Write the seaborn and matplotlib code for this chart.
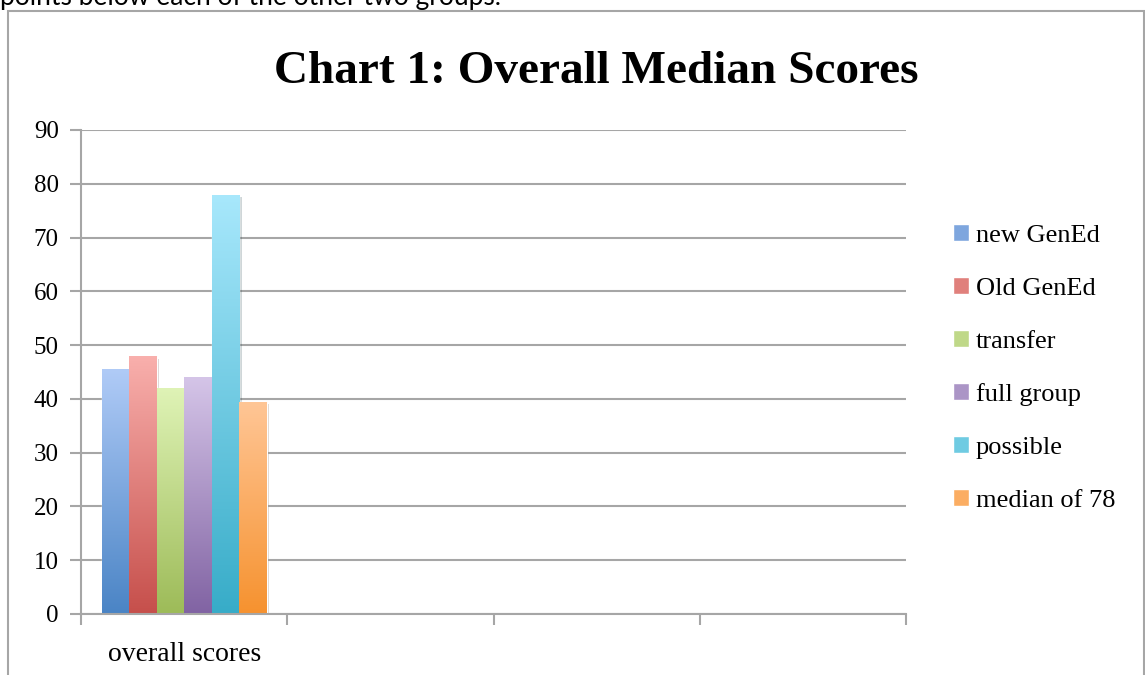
import numpy as np
import pandas as pd
import matplotlib
matplotlib.use("Agg")
import matplotlib.pyplot as plt
import matplotlib.patheffects as pe
import seaborn as sns
from matplotlib.colors import LinearSegmentedColormap
from matplotlib.patches import Rectangle

categorias = ["overall scores", "c2", "c3", "c4"]
rotulos_x = ["overall scores", "", "", ""]
grupos = ["new GenEd", "Old GenEd", "transfer", "full group", "possible", "median of 78"]
medianas = [45.5, 48, 42, 44, 78, 39.5]

# cores do degrade: topo claro, base escura
cor_topo = ["#b0cbf7", "#f9b0ad", "#dff3b6", "#d5c5e8", "#a8e8fc", "#ffc696"]
cor_base = ["#4a84c5", "#c64f4b", "#9dbb58", "#8163a3", "#37acc8", "#f6922f"]
cor_meio = ["#7ea6de", "#e0807c", "#bfd888", "#ab95c6", "#6fcbe2", "#fbad62"]

df = pd.DataFrame({
    "Categoria": ["overall scores"] * len(grupos),
    "Grupo": grupos,
    "Mediana": medianas,
})

sns.set_style("white")
plt.rcParams["font.family"] = ["Liberation Serif", "DejaVu Serif"]
plt.rcParams["text.color"] = "black"
plt.rcParams["xtick.color"] = "black"
plt.rcParams["ytick.color"] = "black"

cinza = "#a6a6a6"
W, H = 1145, 675
fig = plt.figure(figsize=(W / 100, H / 100), dpi=100)
ax = fig.add_axes([81 / W, 1 - 614 / H, 825 / W, 484 / H])

sns.barplot(data=df, x="Categoria", y="Mediana", hue="Grupo", order=categorias,
            hue_order=grupos, palette=cor_base, width=0.8, saturation=1,
            legend=False, ax=ax)

grad = np.linspace(0, 1, 256).reshape(-1, 1)
for patch, c_top, c_bot in zip(ax.patches, cor_topo, cor_base):
    x0, y0 = patch.get_xy()
    w, h = patch.get_width(), patch.get_height()
    patch.set_path_effects([pe.SimplePatchShadow(offset=(2, -2), alpha=0.2), pe.Normal()])
    cmap = LinearSegmentedColormap.from_list("g", [c_bot, c_top])
    im = ax.imshow(grad, cmap=cmap, extent=[x0, x0 + w, y0, y0 + h], aspect="auto",
                   origin="lower", zorder=patch.get_zorder() + 0.1)
    im.set_clip_path(patch)

ax.set_xlim(-0.5, 3.5)
ax.set_ylim(0, 90)
ax.set_yticks(range(0, 91, 10))
ax.set_xticks([-0.5, 0.5, 1.5, 2.5, 3.5])
ax.set_xticklabels([])
ax.set_xticks([0, 1, 2, 3], minor=True)
ax.set_xticklabels(rotulos_x, minor=True)
ax.tick_params(axis="x", which="major", bottom=True, length=8, width=1.5, color=cinza)
ax.tick_params(axis="x", which="minor", bottom=True, length=0, pad=20, labelsize=20)
ax.tick_params(axis="y", left=True, length=8, width=1.5, color=cinza, labelsize=18, pad=8)
ax.set_xlabel("")
ax.set_ylabel("")

ax.yaxis.grid(True, color=cinza, lw=1.5)
ax.set_axisbelow(True)
for lado in ["top", "right"]:
    ax.spines[lado].set_visible(False)
for lado in ["left", "bottom"]:
    ax.spines[lado].set_color(cinza)
    ax.spines[lado].set_linewidth(1.5)

handles = [Rectangle((0, 0), 1, 1, facecolor=c) for c in cor_meio]
fig.legend(handles, grupos, loc="upper left", bbox_to_anchor=(953 / W, 1 - 224 / H),
           frameon=False, fontsize=19, handlelength=0.62, handleheight=0.62,
           handletextpad=0.25, labelspacing=1.14, borderaxespad=0, borderpad=0)

fig.text(596 / W, 1 - 72 / H, "Chart 1: Overall Median Scores", ha="center", va="center",
         fontsize=34, weight="bold")
fig.text(0, 1 - 5 / H, "points below each of the other two groups.", fontsize=19,
         family=["Lato", "DejaVu Sans"], va="baseline")

fig.add_artist(Rectangle((8 / W, -0.05), (1144 - 8) / W, 1.05 - 11 / H,
                         transform=fig.transFigure, fill=False, edgecolor=cinza, lw=1.5))

fig.savefig("out.png", dpi=100)
